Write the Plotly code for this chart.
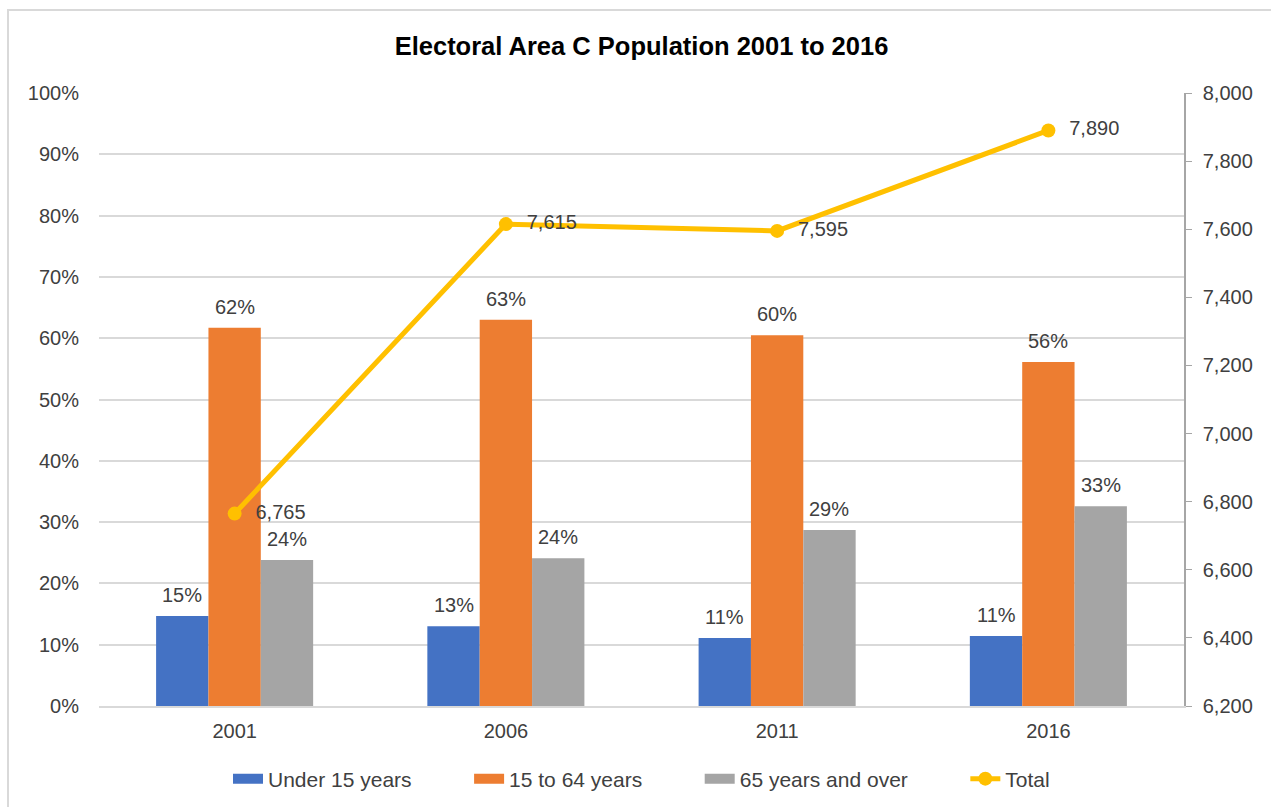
import plotly.graph_objects as go
from plotly.subplots import make_subplots

# Census years and age-group shares
years = ["2001", "2006", "2011", "2016"]
under_15 = [0.147, 0.130, 0.111, 0.114]
age_15_64 = [0.617, 0.630, 0.605, 0.561]
age_65_plus = [0.238, 0.241, 0.287, 0.326]
total_pop = [6765, 7615, 7595, 7890]

series_names = ["Under 15 years", "15 to 64 years", "65 years and over"]
series_colors = ["#4472C4", "#ED7D31", "#A5A5A5"]
bar_series = [under_15, age_15_64, age_65_plus]

FONT = "Arial, Liberation Sans, sans-serif"
BAR_W = 0.193
offsets = [-1.5 * BAR_W, -0.5 * BAR_W, 0.5 * BAR_W]
LEGEND_PAD = "\u00a0" * 9

fig = make_subplots(specs=[[{"secondary_y": True}]])

annotations = []
for name, color, vals, off in zip(series_names, series_colors, bar_series, offsets):
    fig.add_trace(
        go.Bar(
            x=years, y=vals, name=name, marker_color=color,
            marker_line_width=0, width=BAR_W, offset=off,
            showlegend=False,
        ),
        secondary_y=False,
    )
    # wide rectangular legend key for the bar series
    fig.add_trace(
        go.Scatter(
            x=[None], y=[None], name=name + LEGEND_PAD, mode="lines",
            line=dict(color=color, width=12),
        ),
        secondary_y=False,
    )
    for i, v in enumerate(vals):
        annotations.append(dict(
            x=i + off + BAR_W / 2, y=v, xref="x", yref="y",
            text=f"{round(v * 100):.0f}%", showarrow=False,
            yanchor="bottom", yshift=8,
            font=dict(family=FONT, size=20, color="#404040"),
        ))

fig.add_trace(
    go.Scatter(
        x=years, y=total_pop, name="Total", mode="lines+markers+text",
        line=dict(color="#FFC000", width=5),
        marker=dict(color="#FFC000", size=14),
        text=["\u00a0\u00a0" + f"{v:,}" for v in total_pop],
        textposition="middle right",
        textfont=dict(family=FONT, size=20, color="#404040"),
    ),
    secondary_y=True,
)

fig.update_layout(
    width=1271, height=807,
    margin=dict(l=99, r=87, t=93, b=101, autoexpand=False),
    paper_bgcolor="white", plot_bgcolor="white",
    font=dict(family=FONT, size=20, color="#595959"),
    title=dict(
        text="<b>Electoral Area C Population 2001 to 2016</b>",
        x=0.5, xref="paper", xanchor="center",
        y=1 - 46 / 807, yref="container", yanchor="middle",
        font=dict(family=FONT, size=25.5, color="#000000"),
    ),
    barmode="group",
    showlegend=True,
    legend=dict(
        orientation="h", x=0.5, xanchor="center",
        y=(706 - 779) / 613, yanchor="middle",
        font=dict(family=FONT, size=21, color="#404040"),
        tracegroupgap=0,
    ),
    annotations=annotations,
    shapes=[dict(
        type="rect", xref="paper", yref="paper",
        x0=(8 - 99) / 1085, x1=(1300 - 99) / 1085,
        y0=(706 - 840) / 613, y1=(706 - 10) / 613,
        line=dict(color="#D9D9D9", width=2), fillcolor="rgba(0,0,0,0)",
        layer="below",
    )],
)

fig.update_xaxes(
    type="category", domain=[0, 1], automargin=False,
    showline=True, linecolor="#D9D9D9", linewidth=1.5,
    ticks="", showgrid=False, ticklabelstandoff=6,
    tickfont=dict(family=FONT, size=20, color="#404040"),
)
fig.update_yaxes(
    range=[0, 1], dtick=0.1, tickformat=".0%", automargin=False,
    showgrid=True, gridcolor="#D9D9D9", gridwidth=1.5,
    showline=False, zeroline=False, ticks="", ticklabelstandoff=19,
    tickfont=dict(family=FONT, size=20, color="#404040"),
    secondary_y=False,
)
fig.update_yaxes(
    range=[6200, 8000], dtick=200, tickformat=",", automargin=False,
    showgrid=False, zeroline=False,
    showline=True, linecolor="#A6A6A6", linewidth=1.5,
    ticks="outside", ticklen=6, tickcolor="#A6A6A6", ticklabelstandoff=7,
    tickfont=dict(family=FONT, size=20, color="#404040"),
    secondary_y=True,
)

fig.write_html("out.html")
